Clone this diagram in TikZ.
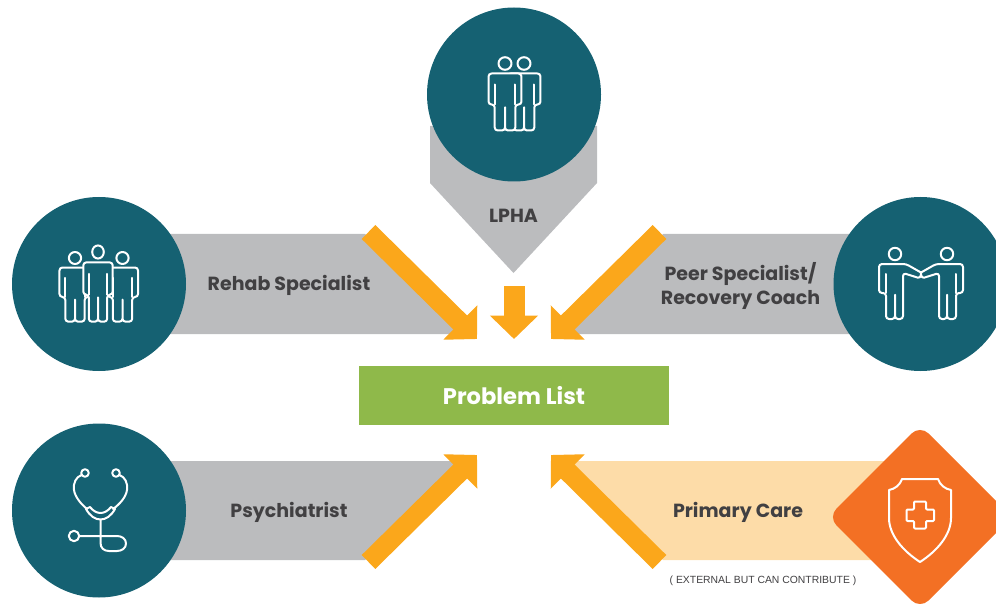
\documentclass[tikz,border=0pt]{standalone}
\usepackage{fontspec}
\setmainfont{Poppins}
\newfontfamily\notefont{Liberation Sans}
\usetikzlibrary{arrows.meta}
\definecolor{tealc}{HTML}{156172}
\definecolor{grayb}{HTML}{BBBCBE}
\definecolor{arrowc}{HTML}{FBA71B}
\definecolor{greenc}{HTML}{8FB94A}
\definecolor{peachc}{HTML}{FDDCA8}
\definecolor{orangec}{HTML}{F37024}
\definecolor{textc}{HTML}{414042}
\tikzset{
  band/.style={fill=grayb,draw=none},
  role/.style={circle,fill=tealc,draw=none,minimum size=174pt,inner sep=0pt},
  blockarrow/.style={draw=arrowc,line width=19.5pt,-{Triangle[length=23.5pt,width=47pt,fill=arrowc]}},
  label/.style={text=textc,font=\fontsize{19}{24}\selectfont\bfseries,align=center,inner sep=0pt},
  icon/.style={draw=white,line width=2pt,line join=round,line cap=round},
}
\newcommand{\figperson}[4]{%
  \begin{scope}[shift={(#1,#2)},xscale=#3,yscale=#4]
    \draw[icon,fill=tealc] (0,0) circle (6.3);
    \draw[icon,fill=tealc,rounded corners=3pt]
      (-6,10) -- (-16,10) -- (-16,41) -- (-10,41) -- (-10,67) -- (0,67) -- (0,42)
      -- (0,67) -- (10,67) -- (10,41) -- (16,41) -- (16,10) -- cycle;
    \draw[icon] (-10,21) -- (-10,41) (10,21) -- (10,41);
  \end{scope}}
\newcommand{\shakehalf}{%
  \draw[icon] (895,254) circle (6.2);
  \draw[icon,rounded corners=3pt]
    (921,272.5) -- (906,264) -- (879,264) -- (879,293) -- (886,293) -- (886,319) -- (895,319)
    -- (895,293) -- (895,319) -- (903,319) -- (903,273) -- (920.5,278.5) -- (921,272.5);
  \draw[icon] (886,274) -- (886,293);}
\begin{document}
\begin{tikzpicture}[x=1pt,y=-1pt]
\useasboundingbox (0,0) rectangle (996,604);
\clip (0,0) rectangle (996,604);
% bands
\path[band] (430,126) -- (597,126) -- (597,183) -- (513.5,273) -- (430,183) -- cycle;
\path[band] (150,234) -- (365,234) -- (465,334) -- (150,334) -- cycle;
\path[band] (878,234) -- (663,234) -- (563,334) -- (878,334) -- cycle;
\path[band] (150,461) -- (465,461) -- (365,560) -- (150,560) -- cycle;
\path[fill=peachc] (900,461) -- (563,461) -- (663,560) -- (900,560) -- cycle;
% role nodes
\node[role] (lpha) at (514,94.5) {};
\node[role] (rehab) at (99,284) {};
\node[role] (peer) at (920.5,284) {};
\node[role] (psych) at (99,510.5) {};
\draw[fill=orangec,draw=none,rounded corners=12pt] (920,425) -- (1012,517) -- (920,609) -- (828,517) -- cycle;
\coordinate (care) at (920,517);
% centre
\node[fill=greenc,minimum width=310pt,minimum height=59pt,inner sep=0pt,text=white,font=\fontsize{22.6}{26}\selectfont\bfseries] (problem) at (514,395.5) {\raisebox{-0.7pt}{Problem List}};
% arrow ends
\coordinate (t1) at (368.5,232); \coordinate (h1) at (477,339);
\coordinate (t2) at (514,286);   \coordinate (h2) at (514,339);
\coordinate (t3) at (659.5,232); \coordinate (h3) at (551,339);
\coordinate (t4) at (368.5,562); \coordinate (h4) at (477,455);
\coordinate (t5) at (659.5,562); \coordinate (h5) at (551,455);
\draw[blockarrow] (t1) -- (h1);
\draw[blockarrow,line width=21pt] (t2) -- (h2);
\draw[blockarrow] (t3) -- (h3);
\draw[blockarrow] (t4) -- (h4);
\draw[blockarrow] (t5) -- (h5);
% labels
\node[label] (lphat) at (513.5,215.5) {LPHA};
\node[label] (rehabt) at (289,285.5) {Rehab Specialist};
\node[label] (peert) at (740.5,286) {Peer Specialist/\\Recovery Coach};
\node[label] (psycht) at (289,512.5) {Psychiatrist};
\node[label] (caret) at (738,512.5) {Primary Care};
\node[text=textc,inner sep=0pt,font=\notefont\fontsize{10.4}{12}\selectfont] (note) at (763,581) {( EXTERNAL BUT CAN CONTRIBUTE )};
% LPHA icon
\figperson{524}{63.5}{1.03}{1}
\figperson{505}{63.5}{1.03}{1}
% Rehab icon
\figperson{75}{258}{0.97}{0.95}
\figperson{122.5}{258}{0.97}{0.95}
\figperson{98}{252}{0.92}{1.04}
% Peer icon
\shakehalf
\begin{scope}[shift={(1842,0)},xscale=-1]
\shakehalf
\end{scope}
% stethoscope
\draw[icon] (85,473) circle (3.8) (116,473) circle (3.8);
\draw[icon] (81.5,475) .. controls (76,477) and (73,483) .. (74,490) .. controls (75,497) and (81,504) .. (87,509);
\draw[icon] (119.5,475) .. controls (125,477) and (128,483) .. (127,490) .. controls (126,497) and (120,504) .. (113,509);
\draw[icon] (86,509) .. controls (90,516) and (95,519.5) .. (100.5,519.5) .. controls (106,519.5) and (111,516) .. (115,509) -- (111,507) .. controls (108,511) and (104,513) .. (100.5,513) .. controls (97,513) and (93,511) .. (90,507) -- cycle;
\draw[icon] (74,536) circle (5.2);
\draw[icon] (79.5,536) -- (117,536) .. controls (122,536) and (126,539) .. (126,543.5) .. controls (126,548) and (122,551) .. (117,551) -- (109,551) .. controls (104,551) and (100.5,548) .. (100.5,543) -- (100.5,520);
% shield
\draw[icon] (902,479) -- (938,479) .. controls (940,485) and (945,489) .. (951,490) -- (951,518) .. controls (951,535) and (937,551) .. (920,562) .. controls (903,551) and (889,535) .. (889,518) -- (889,490) .. controls (895,489) and (900,485) .. (902,479) -- cycle;
\draw[icon,rounded corners=1pt] (914,501.5) -- (926,501.5) -- (926,509.5) -- (934,509.5) -- (934,521) -- (926,521) -- (926,528.5) -- (914,528.5) -- (914,521) -- (906.5,521) -- (906.5,509.5) -- (914,509.5) -- cycle;
\end{tikzpicture}
\end{document}
